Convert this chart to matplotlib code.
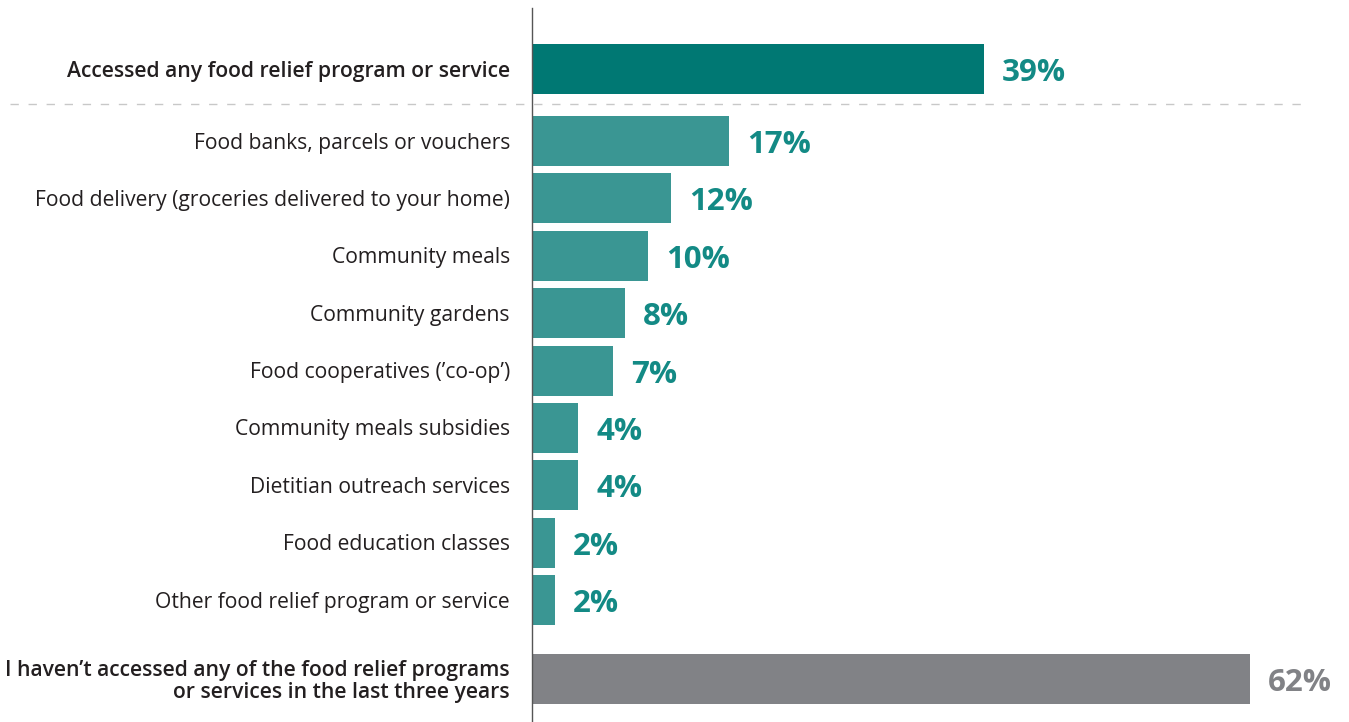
import matplotlib
matplotlib.use("Agg")
import matplotlib.pyplot as plt
from matplotlib import transforms

plt.rcParams["font.family"] = ["Open Sans", "DejaVu Sans"]

# data
total_label = "Accessed any food relief program or service"
total_value = 39
service_labels = [
    "Food banks, parcels or vouchers",
    "Food delivery (groceries delivered to your home)",
    "Community meals",
    "Community gardens",
    "Food cooperatives (\u2019co-op\u2019)",
    "Community meals subsidies",
    "Dietitian outreach services",
    "Food education classes",
    "Other food relief program or service",
]
service_values = [17, 12, 10, 8, 7, 4, 4, 2, 2]
none_label = ("I haven\u2019t accessed any of the food relief programs\n"
              "or services in the last three years")
none_value = 62

DARK_TEAL = "#007873"
TEAL = "#3a9693"
TEAL_TEXT = "#138a85"
GREY = "#818286"
TEXT = "#231f20"

W, H = 1349, 722
fig = plt.figure(figsize=(W / 100, H / 100), dpi=100)
ax_left = 532 / W
ax_top = (H - 8) / H
ax = fig.add_axes([ax_left, 0, 1 - ax_left, ax_top])

px_per_unit = 57.4
row0_px = 141
ax.set_ylim((H - row0_px) / px_per_unit, (8 - row0_px) / px_per_unit)
ax.set_xlim(0, (W - 532) / 11.58)

bar_h = 50 / px_per_unit
top_y = -72 / px_per_unit
rows = list(range(len(service_values)))
bottom_y = rows[-1] + 79 / px_per_unit

ax.barh([top_y], [total_value], height=bar_h, color=DARK_TEAL)
ax.barh(rows, service_values, height=bar_h, color=TEAL)
ax.barh([bottom_y], [none_value], height=bar_h, color=GREY)

for side in ["top", "right", "bottom"]:
    ax.spines[side].set_visible(False)
ax.spines["left"].set_color("#555555")
ax.spines["left"].set_linewidth(1.0)
ax.set_xticks([])
ax.set_yticks([])

val_off = transforms.offset_copy(ax.transData, fig=fig, x=18, y=-4, units="dots")
lab_tr = transforms.blended_transform_factory(ax.transAxes, ax.transData)
lab_tr = transforms.offset_copy(lab_tr, fig=fig, x=-22, y=-2, units="dots")

def value_text(x, y, color):
    ax.text(x, y, f"{x}%", transform=val_off, ha="left", va="center",
            fontsize=22.5, fontweight="bold", color=color)

value_text(total_value, top_y, TEAL_TEXT)
for y, v in zip(rows, service_values):
    value_text(v, y, TEAL_TEXT)
value_text(none_value, bottom_y, GREY)

ax.text(0, top_y, total_label, transform=lab_tr, ha="right", va="center",
        fontsize=15.2, fontweight="semibold", color=TEXT, clip_on=False)
for y, lab in zip(rows, service_labels):
    ax.text(0, y, lab, transform=lab_tr, ha="right", va="center",
            fontsize=15.2, color=TEXT, clip_on=False)
ax.text(0, bottom_y, none_label, transform=lab_tr, ha="right", va="center",
        fontsize=15.2, fontweight="semibold", color=TEXT, multialignment="right",
        linespacing=1.05, clip_on=False)

# dashed separator
sep_y = 1 - 104 / H
fig.add_artist(plt.Line2D([10 / W, 1308 / W], [sep_y, sep_y],
                          transform=fig.transFigure, color="#c8c8c8",
                          linewidth=1.0, linestyle=(0, (6, 7))))

fig.savefig("out.png", dpi=100, facecolor="white")
